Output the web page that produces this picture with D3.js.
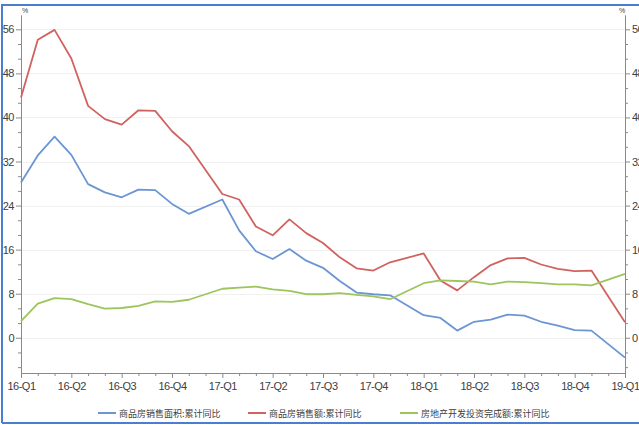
<!DOCTYPE html>
<html>
<head>
<meta charset="utf-8">
<script src="https://cdn.jsdelivr.net/npm/d3@7"></script>
<style>
  body { margin: 0; background: #fff; }
  svg { display: block; }
  .tick text { font-family: "Liberation Sans", sans-serif; font-size: 11px; letter-spacing: -0.5px; fill: #404040; }
</style>
</head>
<body>
<svg id="chart"></svg>
<script>
// periods (cumulative data, Jan-Feb reported together)
var periods = ["2016-02","2016-03","2016-04","2016-05","2016-06","2016-07","2016-08","2016-09","2016-10","2016-11","2016-12",
               "2017-02","2017-03","2017-04","2017-05","2017-06","2017-07","2017-08","2017-09","2017-10","2017-11","2017-12",
               "2018-02","2018-03","2018-04","2018-05","2018-06","2018-07","2018-08","2018-09","2018-10","2018-11","2018-12",
               "2019-02"];

var salesArea = [28.2,33.1,36.5,33.2,27.9,26.4,25.5,26.9,26.8,24.3,22.5,
                 25.1,19.5,15.7,14.3,16.1,14.0,12.7,10.3,8.2,7.9,7.7,
                 4.1,3.6,1.3,2.9,3.3,4.2,4.0,2.9,2.2,1.4,1.3,
                 -3.6];
var salesValue = [43.6,54.1,55.9,50.7,42.1,39.7,38.7,41.3,41.2,37.5,34.8,
                  26.1,25.1,20.2,18.6,21.5,19.0,17.2,14.6,12.6,12.2,13.7,
                  15.3,10.4,8.6,11.0,13.2,14.4,14.5,13.3,12.5,12.1,12.2,
                  2.8];
var investment = [3.0,6.2,7.2,7.0,6.1,5.3,5.4,5.8,6.6,6.5,6.9,
                  8.9,9.1,9.3,8.8,8.5,7.9,7.9,8.1,7.8,7.5,7.0,
                  9.9,10.4,10.3,10.2,9.7,10.2,10.1,9.9,9.7,9.7,9.5,
                  11.6];

var quarterLabels = ["16-Q1","16-Q2","16-Q3","16-Q4","17-Q1","17-Q2","17-Q3","17-Q4","18-Q1","18-Q2","18-Q3","18-Q4","19-Q1"];
var yTicks = [0, 8, 16, 24, 32, 40, 48, 56];

var seriesNames = ["商品房销售面积:累计同比", "商品房销售额:累计同比", "房地产开发投资完成额:累计同比"];
var seriesColors = ["#6b95d3", "#d0625f", "#9dc55c"];

var width = 639, height = 425;
var plotLeft = 21, plotRight = 625, plotTop = 15, plotBottom = 373;

var svg = d3.select("#chart").attr("width", width).attr("height", height);

// month index from first period
function monthIndex(p) {
    var parts = p.split("-");
    return (+parts[0] - 2016) * 12 + (+parts[1] - 2);
}

var xScale = d3.scaleLinear().domain([0, 36]).range([plotLeft, plotRight]);
var yScale = d3.scaleLinear().domain([-6.4, 58.6]).range([plotBottom, plotTop]);

// frame
svg.append("path")
    .attr("d", "M2,423 L2,5 L639,5")
    .attr("fill", "none")
    .attr("stroke", "#4a7ed0")
    .attr("stroke-width", 2);
svg.append("line")
    .attr("x1", 2).attr("x2", 639).attr("y1", 423).attr("y2", 423)
    .attr("stroke", "#4a7ed0").attr("stroke-width", 2);

// grid
svg.append("g").selectAll("line")
    .data(yTicks)
    .enter().append("line")
    .attr("x1", plotLeft).attr("x2", plotRight)
    .attr("y1", function (d) { return Math.round(yScale(d)) + 0.5; })
    .attr("y2", function (d) { return Math.round(yScale(d)) + 0.5; })
    .attr("stroke", "#f0f0f0");

// minor ticks every 8/3
var minorY = d3.range(-6, 59).map(function (i) { return i * 8 / 3; })
    .filter(function (v) { return v >= -6.4 && v <= 58.6 && Math.abs(v / 8 - Math.round(v / 8)) > 0.01; });

function styleAxis(g) {
    g.select(".domain").attr("stroke", "#8a8a8a");
    g.selectAll(".tick line").attr("stroke", "#8a8a8a");
}

var yLeft = d3.axisLeft(yScale).tickValues(yTicks).tickSize(5).tickPadding(2).tickSizeOuter(0);
svg.append("g").attr("transform", "translate(" + plotLeft + ",0)").call(yLeft).call(styleAxis);
svg.append("g").attr("transform", "translate(" + plotLeft + ",0)")
    .call(d3.axisLeft(yScale).tickValues(minorY).tickSize(3).tickFormat("").tickSizeOuter(0))
    .call(styleAxis);

var yRight = d3.axisRight(yScale).tickValues(yTicks).tickSize(5).tickPadding(2).tickSizeOuter(0);
svg.append("g").attr("transform", "translate(" + plotRight + ",0)").call(yRight).call(styleAxis);
svg.append("g").attr("transform", "translate(" + plotRight + ",0)")
    .call(d3.axisRight(yScale).tickValues(minorY).tickSize(3).tickFormat("").tickSizeOuter(0))
    .call(styleAxis);

// x axis
var xMajor = d3.range(0, 37, 3);
var xMinor = d3.range(0, 37).filter(function (i) { return i % 3 !== 0; });
var xAxis = d3.axisBottom(xScale).tickValues(xMajor)
    .tickFormat(function (d, i) { return quarterLabels[i]; })
    .tickSize(5).tickPadding(4).tickSizeOuter(0);
svg.append("g").attr("transform", "translate(0," + plotBottom + ")").call(xAxis).call(styleAxis);
svg.append("g").attr("transform", "translate(0," + plotBottom + ")")
    .call(d3.axisBottom(xScale).tickValues(xMinor).tickSize(3).tickFormat("").tickSizeOuter(0))
    .call(styleAxis);

// unit labels
svg.append("text").attr("x", 22).attr("y", 13).text("%")
    .attr("font-family", "Liberation Sans").attr("font-size", 7).attr("fill", "#404040");
svg.append("text").attr("x", 619).attr("y", 13).text("%")
    .attr("font-family", "Liberation Sans").attr("font-size", 7).attr("fill", "#404040");

// lines
var allSeries = [salesArea, salesValue, investment];
var line = d3.line()
    .x(function (d, i) { return xScale(monthIndex(periods[i])); })
    .y(function (d) { return yScale(d); });

svg.append("g").selectAll("path")
    .data(allSeries)
    .enter().append("path")
    .attr("d", line)
    .attr("fill", "none")
    .attr("stroke", function (d, i) { return seriesColors[i]; })
    .attr("stroke-width", 1.8)
    .attr("stroke-linejoin", "round");

// legend
var legendX = [98, 248, 400];
var legend = svg.append("g").selectAll("g")
    .data(seriesNames)
    .enter().append("g")
    .attr("transform", function (d, i) { return "translate(" + legendX[i] + ",413)"; });
legend.append("line")
    .attr("x1", 0).attr("x2", 18)
    .attr("stroke", function (d, i) { return seriesColors[i]; })
    .attr("stroke-width", 2);
legend.append("text")
    .attr("x", 21).attr("y", 3.5)
    .attr("font-family", "Noto Sans CJK SC")
    .attr("font-size", 9)
    .attr("fill", "#404040")
    .text(function (d) { return d; });
</script>
</body>
</html>
